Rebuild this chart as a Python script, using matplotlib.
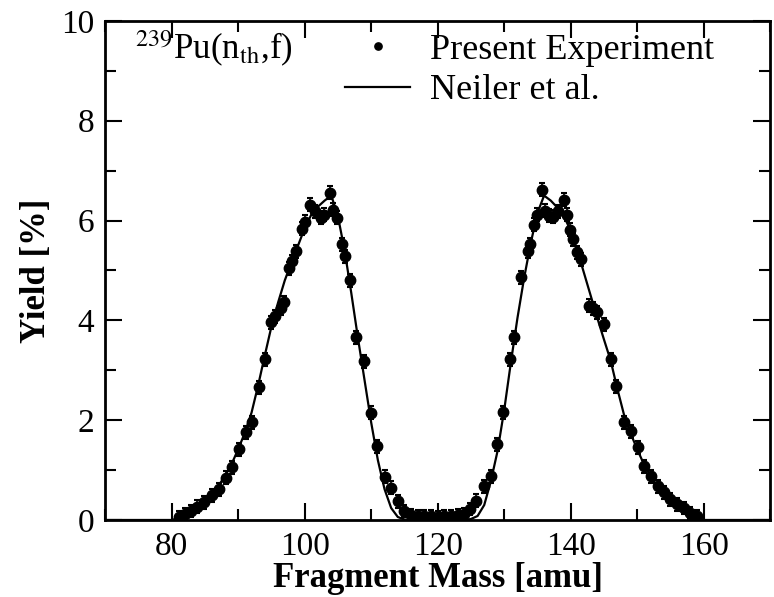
import matplotlib
matplotlib.use("Agg")
import matplotlib.pyplot as plt
from matplotlib.ticker import MultipleLocator

# Neiler et al. curve
neiler_mass = [70, 80, 81, 82, 83, 84, 85, 86, 87, 88, 89, 90, 91, 92, 93, 94, 95, 96, 97, 98, 99,
               100, 101, 102, 103, 104, 105, 106, 107, 108, 109, 110, 111, 112, 113, 114, 115, 116,
               124, 125, 126, 127, 128, 129, 130, 131, 132, 133, 134, 135, 136, 137, 138, 139, 140,
               141, 142, 143, 144, 145, 146, 147, 148, 149, 150, 151, 152, 153, 154, 155, 156, 157,
               158, 159, 160, 170]
neiler_yield = [0.0, 0.0, 0.04, 0.10, 0.18, 0.28, 0.40, 0.52, 0.68, 0.88, 1.12, 1.42, 1.75, 2.15, 2.70,
                3.30, 3.88, 4.36, 4.80, 5.16, 5.50, 5.85, 6.12, 6.28, 6.40, 6.50, 6.08, 5.40, 4.55,
                3.65, 2.80, 1.95, 1.20, 0.62, 0.24, 0.06, 0.01, 0.0,
                0.0, 0.02, 0.08, 0.30, 0.78, 1.38, 2.20, 3.15, 4.05, 4.85, 5.55, 6.15, 6.50, 6.40,
                6.26, 6.08, 5.80, 5.40, 4.95, 4.50, 4.05, 3.62, 3.20, 2.64, 2.12, 1.74, 1.42, 1.12,
                0.88, 0.68, 0.52, 0.40, 0.28, 0.18, 0.10, 0.04, 0.0, 0.0]

# present experiment
exp_mass = [81.1, 82.0, 82.9, 83.8, 84.9, 86.1, 87.1, 88.2, 89.1, 90.1, 91.2, 92.1, 93.1, 94.0, 95.0,
            95.6, 96.4, 96.9, 97.6, 98.1, 98.7, 99.6, 100.1, 100.8, 101.6, 102.4, 102.9, 103.8,
            104.3, 104.8, 105.6, 106.1, 106.8, 107.7, 108.9, 109.9, 110.8, 112.0, 113.0, 114.0,
            115.0, 116.0, 117.0, 118.0, 119.0, 120.0, 121.0, 122.0, 123.0, 124.0, 124.8, 125.8,
            127.0, 128.0, 128.9, 129.8, 130.8, 131.5, 132.6, 133.6, 133.9, 134.5, 135.0, 135.7,
            136.2, 136.8, 137.4, 138.1, 139.0, 139.4, 139.9, 140.4, 141.0, 141.5, 142.7, 143.4,
            144.0, 145.0, 146.0, 146.8, 148.0, 149.0, 150.1, 151.1, 152.1, 153.2, 154.0, 155.0,
            156.0, 157.0, 158.0, 159.0]
exp_yield = [0.06, 0.12, 0.18, 0.27, 0.36, 0.50, 0.62, 0.85, 1.06, 1.42, 1.76, 1.96, 2.66, 3.22, 3.96,
             4.08, 4.24, 4.36, 5.04, 5.18, 5.38, 5.84, 5.98, 6.32, 6.19, 6.06, 6.12, 6.56,
             6.22, 6.06, 5.52, 5.28, 4.80, 3.66, 3.18, 2.15, 1.48, 0.87, 0.65, 0.38,
             0.18, 0.10, 0.08, 0.07, 0.08, 0.06, 0.08, 0.07, 0.09, 0.12, 0.22, 0.39,
             0.68, 0.88, 1.52, 2.16, 3.22, 3.66, 4.86, 5.38, 5.52, 5.92, 6.12, 6.62,
             6.20, 6.10, 6.08, 6.19, 6.42, 6.12, 5.82, 5.62, 5.36, 5.22, 4.29, 4.24,
             4.16, 3.92, 3.22, 2.68, 1.96, 1.78, 1.46, 1.08, 0.88, 0.68, 0.56, 0.42,
             0.32, 0.24, 0.14, 0.08]
exp_err = 0.13

plt.rcParams['font.family'] = ['Liberation Serif', 'DejaVu Serif']
plt.rcParams['mathtext.fontset'] = 'stix'

fig = plt.figure(figsize=(7.74, 5.97), dpi=100)
ax = fig.add_axes([0.136, 0.129, 0.859, 0.836])

ax.plot(neiler_mass, neiler_yield, color='black', lw=1.6, label='Neiler et al.', zorder=2)
ax.errorbar(exp_mass, exp_yield, yerr=exp_err, fmt='none', ecolor='black', elinewidth=1.2,
            capsize=2.5, capthick=1.5, zorder=3)
ax.plot(exp_mass, exp_yield, 'o', color='black', ms=7.5, ls='none',
        label='Present Experiment', zorder=4)

ax.set_xlim(70, 170)
ax.set_ylim(0, 10)
ax.xaxis.set_major_locator(MultipleLocator(20))
ax.xaxis.set_minor_locator(MultipleLocator(10))
ax.yaxis.set_major_locator(MultipleLocator(2))
ax.yaxis.set_minor_locator(MultipleLocator(1))
ax.tick_params(which='both', direction='in', top=True, right=True, width=1.5, labelsize=24)
ax.tick_params(which='major', length=12, pad=8)
ax.tick_params(which='minor', length=8)
for s in ax.spines.values():
    s.set_linewidth(2)

ax.set_xlabel('Fragment Mass [amu]', fontsize=25, fontweight='bold', labelpad=0)
ax.set_ylabel('Yield [%]', fontsize=25, fontweight='bold', labelpad=6)

ax.text(0.045, 0.985, r'$^{239}$Pu(n$_{\rm th}$,f)', transform=ax.transAxes, fontsize=25,
        va='top', ha='left')

handles, labels = ax.get_legend_handles_labels()
ax.legend(handles[::-1], labels[::-1], loc='upper right', bbox_to_anchor=(0.965, 1.04),
          frameon=False, fontsize=26, handlelength=1.8, handletextpad=0.55, labelspacing=0.2,
          markerscale=0.7)

fig.savefig('out.png', dpi=100)
